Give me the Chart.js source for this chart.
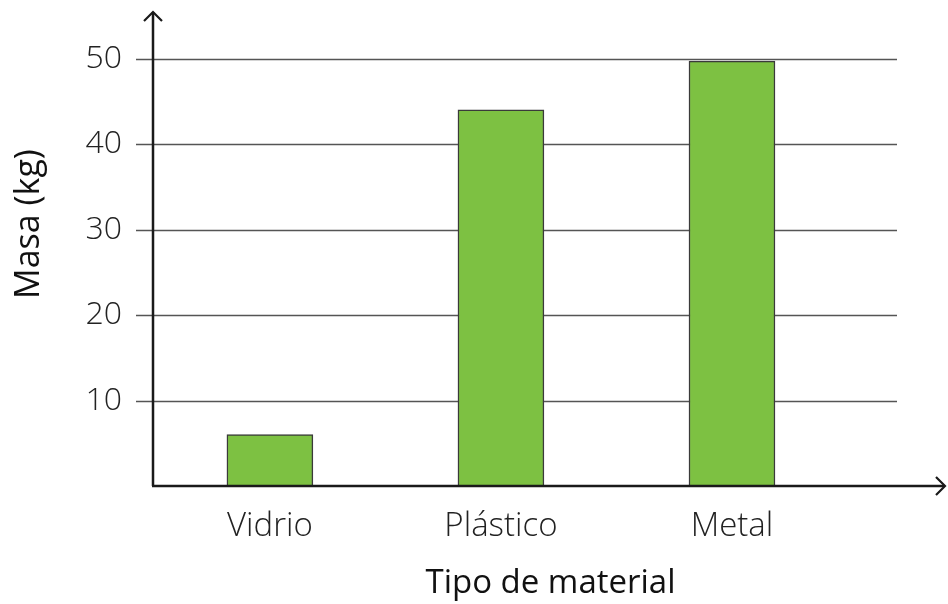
<!DOCTYPE html>
<html>
<head>
<meta charset="utf-8">
<script src="https://cdn.jsdelivr.net/npm/chart.js@4"></script>
<style>
    html, body { margin: 0; padding: 0; background: #fff; }
    #wrap { width: 948px; height: 604px; }
</style>
</head>
<body>
<div id="wrap"><canvas id="grafico"></canvas></div>
<script>
const materiais = ['Vidrio', 'Plástico', 'Metal'];
const massas = [6, 44, 49.7];
const marcasY = [10, 20, 30, 40, 50];

const fonte = '"Open Sans", "DejaVu Sans", sans-serif';

// eixos com setas e linhas de grade desenhados a mão
const eixosPlugin = {
    id: 'eixos',
    afterLayout(chart) {
        // sobe o título "Masa (kg)" (centrado em y = 224)
        const y = chart.scales.y;
        y.top = 2 * 224 - y.bottom;
    },
    beforeDatasetsDraw(chart) {
        const { ctx, scales: { y }, chartArea } = chart;
        ctx.save();
        ctx.strokeStyle = '#555';
        ctx.lineWidth = 1.3;
        marcasY.forEach(v => {
            const py = Math.round(y.getPixelForValue(v)) + 0.5;
            ctx.beginPath();
            ctx.moveTo(chartArea.left - 17, py);
            ctx.lineTo(897, py);
            ctx.stroke();
        });
        ctx.restore();
    },
    afterDatasetsDraw(chart) {
        const { ctx, scales: { y }, chartArea } = chart;
        const x0 = chartArea.left;
        const y0 = y.getPixelForValue(0);
        const yt = chartArea.top;
        ctx.save();
        ctx.strokeStyle = '#1a1a1a';
        ctx.lineWidth = 2.5;
        ctx.beginPath();
        ctx.moveTo(x0, y0);
        ctx.lineTo(x0, yt);
        ctx.moveTo(x0 - 1, y0);
        ctx.lineTo(944, y0);
        ctx.stroke();
        ctx.lineWidth = 2.2;
        ctx.beginPath();
        ctx.moveTo(x0 - 9, yt + 9);
        ctx.lineTo(x0, yt);
        ctx.lineTo(x0 + 9, yt + 9);
        ctx.moveTo(936, y0 - 9);
        ctx.lineTo(945, y0);
        ctx.lineTo(936, y0 + 9);
        ctx.stroke();
        ctx.restore();
    }
};

new Chart(document.getElementById('grafico'), {
    type: 'bar',
    data: {
        datasets: [{
            data: massas.map((m, i) => ({ x: i, y: m })),
            backgroundColor: '#7dc142',
            borderColor: '#3a3a3a',
            borderWidth: 1.5,
            barThickness: 86
        }]
    },
    options: {
        responsive: true,
        maintainAspectRatio: false,
        animation: false,
        events: [],
        layout: { padding: { top: 12, right: 0, bottom: 0, left: 0 } },
        plugins: { legend: { display: false }, tooltip: { enabled: false } },
        scales: {
            x: {
                type: 'linear',
                bounds: 'data',
                offset: false,
                min: -0.506,
                max: 2.935,
                grid: { display: false, drawTicks: false },
                border: { display: false },
                afterBuildTicks: s => {
                    s.ticks = materiais.map((_, i) => ({ value: i }));
                },
                afterFit: s => {
                    s.height = 118;
                    s.paddingLeft = 0;
                    s.paddingRight = 0;
                },
                ticks: {
                    autoSkip: false,
                    maxRotation: 0,
                    minRotation: 0,
                    padding: 21,
                    color: '#222',
                    font: { family: fonte, size: 33, weight: 300 },
                    callback: v => materiais[v] || ''
                },
                title: {
                    display: true,
                    text: 'Tipo de material',
                    color: '#111',
                    padding: { top: 0, bottom: 1 },
                    font: { family: fonte, size: 33, weight: 400 }
                }
            },
            y: {
                bounds: 'data',
                min: 0,
                max: 55.44,
                grid: { display: false, drawTicks: false },
                border: { display: false },
                afterFit: s => {
                    s.width = 153;
                    s.paddingTop = 0;
                    s.paddingBottom = 0;
                },
                ticks: {
                    stepSize: 10,
                    includeBounds: false,
                    padding: 31,
                    color: '#222',
                    font: { family: fonte, size: 32, weight: 300 },
                    callback: v => marcasY.includes(v) ? v : ''
                },
                title: {
                    display: true,
                    text: 'Masa (kg)',
                    color: '#111',
                    padding: { top: 9, bottom: 0 },
                    font: { family: fonte, size: 34, weight: 400 }
                }
            }
        }
    },
    plugins: [eixosPlugin]
});
</script>
</body>
</html>
